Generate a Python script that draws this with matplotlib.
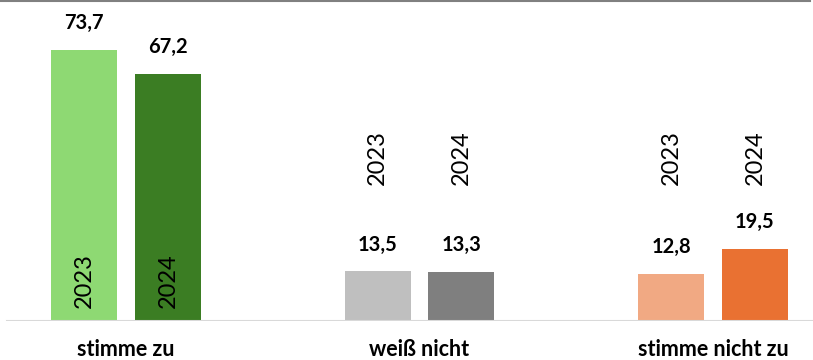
import matplotlib.pyplot as plt
from matplotlib.lines import Line2D

categories = ["stimme zu", "weiß nicht", "stimme nicht zu"]
years = ["2023", "2024"]
values_2023 = [73.7, 13.5, 12.8]
values_2024 = [67.2, 13.3, 19.5]
value_labels_2023 = ["73,7", "13,5", "12,8"]
value_labels_2024 = ["67,2", "13,3", "19,5"]

colors_2023 = ["#8ED973", "#BFBFBF", "#F1A983"]
colors_2024 = ["#3B7D23", "#7F7F7F", "#E97132"]

plt.rcParams["font.family"] = ["Lato", "DejaVu Sans"]

fig = plt.figure(figsize=(8.13, 3.6), dpi=100)
ax = fig.add_axes([0, 39 / 360, 1, 321 / 360])

px_per_cat = 293.5
ax.set_xlim(-126 / px_per_cat, 687 / px_per_cat)
ax.set_ylim(0, 321 / 3.68)

width = 0.225
offset = 0.143
x = list(range(len(categories)))

for i in x:
    for j, (vals, labs, cols) in enumerate(
        [(values_2023, value_labels_2023, colors_2023),
         (values_2024, value_labels_2024, colors_2024)]):
        xc = i + (-offset if j == 0 else offset)
        ax.bar(xc, vals[i], width=width, color=cols[i], zorder=2)
        ax.annotate(labs[i], (xc, vals[i]), xytext=(0, 15), textcoords="offset points",
                    ha="center", va="baseline", fontsize=14.5, fontweight="bold",
                    color="#000000")
        # year label: inside the bar when it is tall, above the value otherwise
        ybase = 3.5 if vals[i] > 40 else 37
        ax.text(xc, ybase, years[j], rotation=90, ha="center", va="bottom",
                fontsize=17, color="#000000")

ax.axhline(0, xmin=7 / 813, xmax=1, color="#D9D9D9", lw=1.5, zorder=3)

for i, cat in enumerate(categories):
    ax.annotate(cat, (i, 0), xytext=(0, -35 / 1.389), textcoords="offset points",
                ha="center", va="baseline", fontsize=15.5, fontweight="bold",
                color="#000000", annotation_clip=False)

ax.axis("off")

fig.add_artist(Line2D([0, 810 / 813], [1 - 1 / 360, 1 - 1 / 360],
                      transform=fig.transFigure, color="#808080", lw=1.5))

fig.savefig("out.png", dpi=100)
